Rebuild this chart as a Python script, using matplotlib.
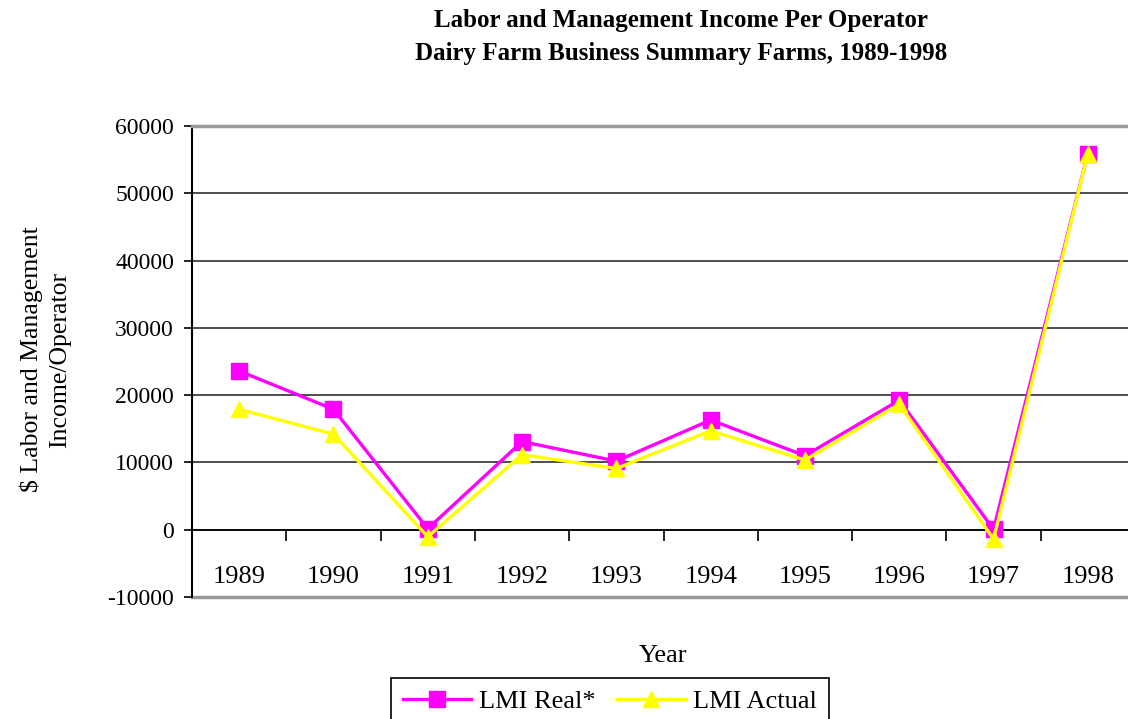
import matplotlib.pyplot as plt
import numpy as np

# data
years = ['1989', '1990', '1991', '1992', '1993', '1994', '1995', '1996', '1997', '1998']
lmi_real = [23600, 17900, 150, 13100, 10200, 16300, 11000, 19250, 50, 55900]
lmi_actual = [17900, 14200, -1050, 11150, 9100, 14700, 10350, 18650, -1400, 55900]

plt.rcParams['font.family'] = ['Liberation Serif', 'DejaVu Serif']
plt.rcParams['axes.unicode_minus'] = False

fig = plt.figure(figsize=(11.28, 7.19), dpi=100)
ax = fig.add_axes([192/1128, 1-597/719, (1135-192)/1128, (597-126)/719])

x = np.arange(len(years))
ax.plot(x, lmi_real, color='#FF00FF', lw=2.4, marker='s', ms=11, label='LMI Real*', zorder=3)
ax.plot(x, lmi_actual, color='#FFFF00', lw=2.4, marker='^', ms=12, label='LMI Actual', zorder=4)

ax.set_xlim(-0.5, len(years) - 0.5)
ax.set_ylim(-10000, 60000)
ax.set_yticks(np.arange(-10000, 60001, 10000))
ax.yaxis.grid(True, color='#303030', lw=1.2)
ax.set_axisbelow(True)
ax.tick_params(axis='y', direction='out', length=6, width=1.2, labelsize=17, pad=7)

# x axis crosses at zero, ticks between categories
ax.spines['bottom'].set_position(('data', 0))
ax.spines['bottom'].set_linewidth(1.2)
ax.spines['left'].set_linewidth(1.5)
ax.spines['right'].set_visible(False)
ax.spines['top'].set_color('#999999')
ax.spines['top'].set_linewidth(2.5)
ax.set_xticks(np.arange(-0.5, len(years), 1.0))
ax.set_xticklabels([])
ax.tick_params(axis='x', which='major', direction='out', length=8, width=1.2)
ax.set_xticks(x, minor=True)
ax.set_xticklabels(years, minor=True)
ax.tick_params(axis='x', which='minor', length=0, labelsize=19, pad=26)
ax.axhline(-10000, color='#999999', lw=2.5, clip_on=False)

fig.text(0.604, 0.972, 'Labor and Management Income Per Operator', ha='center', va='center',
         fontsize=18, fontweight='bold')
fig.text(0.604, 0.926, 'Dairy Farm Business Summary Farms, 1989-1998', ha='center', va='center',
         fontsize=18, fontweight='bold')
fig.text(0.04, 0.5, '$ Labor and Management\nIncome/Operator', rotation=90, ha='center', va='center',
         fontsize=18.5, linespacing=1.35)
fig.text(663/1128, 1-656/719, 'Year', ha='center', va='center', fontsize=19)

leg = fig.legend(loc='upper center', bbox_to_anchor=(610/1128, 1-678/719), ncol=2, fontsize=19,
                 frameon=True, fancybox=False, edgecolor='black', framealpha=1, borderaxespad=0,
                 handlelength=2.6, columnspacing=0.8, handletextpad=0.3, borderpad=0.45)
leg.get_frame().set_linewidth(1.2)

fig.savefig('out.png', dpi=100)
